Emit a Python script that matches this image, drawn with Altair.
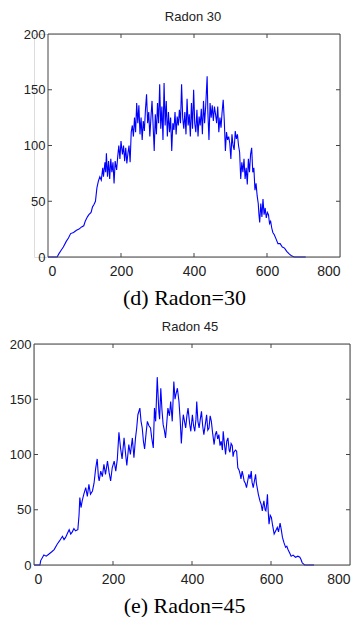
import altair as alt
import pandas as pd

# ---- Panel (d) Radon 30 ----
p1_x = [0, 25, 30, 36, 42, 50, 56, 62, 70, 78, 85, 92, 98, 102, 108, 112, 118, 122, 126, 130,
        134, 138, 142, 146, 150, 152, 156, 158, 160, 163, 166, 169, 172, 175, 178, 181, 184, 188, 191, 194,
        197, 200, 204, 207, 210, 213, 216, 219, 222, 225, 228, 231, 234, 237, 240, 243, 246, 249, 252, 255,
        258, 261, 264, 267, 270, 273, 276, 279, 282, 285, 288, 291, 294, 297, 300, 303, 306, 309, 312, 315,
        318, 321, 324, 327, 330, 333, 336, 339, 342, 345, 348, 351, 354, 357, 360, 363, 366, 369, 372, 375,
        378, 381, 384, 387, 390, 393, 396, 399, 402, 405, 408, 411, 414, 417, 420, 423, 426, 429, 432, 436,
        438, 441, 444, 447, 450, 453, 456, 459, 462, 465, 468, 471, 474, 477, 480, 483, 486, 489, 492, 495,
        498, 501, 504, 507, 510, 513, 516, 519, 522, 525, 528, 531, 534, 537, 540, 543, 546, 549, 552, 555,
        558, 561, 564, 567, 570, 573, 576, 578, 580, 583, 586, 589, 592, 595, 598, 601, 604, 607, 610, 613,
        616, 620, 625, 630, 636, 642, 648, 654, 660, 667, 675, 706]
p1_y = [0, 0, 3, 6, 9, 14, 17, 21, 22, 24, 25, 27, 28, 32, 36, 38, 40, 45, 47, 50,
        62, 68, 72, 69, 80, 72, 85, 76, 93, 72, 86, 70, 88, 76, 85, 66, 86, 78, 90, 100,
        88, 104, 92, 100, 86, 98, 84, 93, 100, 85, 112, 118, 108, 125, 112, 138, 120, 136, 110, 125,
        105, 122, 113, 132, 146, 120, 130, 108, 125, 140, 118, 95, 128, 110, 138, 120, 155, 115, 135, 105,
        156, 118, 140, 108, 130, 112, 125, 95, 120, 114, 130, 110, 126, 118, 132, 120, 155, 125, 115, 130,
        110, 142, 118, 128, 108, 138, 115, 150, 120, 112, 132, 108, 126, 118, 133, 110, 140, 120, 135, 162,
        130, 105, 138, 125, 136, 122, 135, 128, 120, 135, 112, 125, 116, 130, 141, 122, 95, 112, 105, 108,
        102, 88, 110, 100, 96, 113, 106, 110, 100, 94, 70, 85, 76, 88, 70, 80, 65, 88, 76, 92,
        98, 76, 80, 60, 66, 55, 48, 38, 31, 48, 36, 52, 38, 44, 35, 40, 38, 30, 32, 26,
        22, 20, 16, 12, 12, 9, 8, 5, 3, 1, 0, 0]

# ---- Panel (e) Radon 45 ----
p2_x = [0, 15, 17, 25, 31, 38, 45, 51, 59, 65, 72, 76, 80, 85, 89, 93, 97, 101, 105, 111,
        114, 116, 119, 122, 126, 131, 135, 139, 143, 148, 152, 156, 160, 163, 165, 169, 173, 177, 181, 186,
        190, 194, 198, 203, 207, 211, 215, 219, 223, 228, 232, 235, 240, 244, 249, 253, 257, 260, 263, 268,
        271, 274, 277, 280, 284, 287, 291, 295, 298, 302, 305, 308, 312, 316, 318, 321, 324, 327, 330, 333,
        336, 339, 343, 346, 350, 354, 357, 359, 363, 367, 370, 373, 376, 378, 381, 384, 387, 390, 394, 397,
        401, 404, 407, 410, 412, 415, 418, 421, 424, 427, 430, 434, 437, 440, 443, 446, 449, 452, 456, 459,
        462, 465, 468, 471, 474, 477, 479, 482, 485, 488, 491, 494, 496, 499, 502, 504, 506, 510, 513, 516,
        519, 522, 524, 527, 530, 532, 535, 538, 541, 544, 547, 550, 552, 555, 558, 561, 563, 565, 568, 572,
        575, 578, 580, 582, 585, 587, 589, 591, 593, 595, 598, 601, 604, 608, 612, 616, 619, 623, 626, 629,
        633, 637, 640, 643, 647, 651, 656, 662, 668, 673, 676, 679, 685, 709]
p2_y = [0, 0, 4, 9, 8, 10, 12, 14, 19, 22, 26, 23, 25, 29, 32, 28, 30, 33, 31, 32,
        45, 61, 52, 58, 64, 70, 62, 73, 64, 67, 74, 87, 96, 80, 76, 85, 80, 91, 82, 94,
        84, 76, 88, 94, 85, 96, 120, 106, 96, 115, 100, 90, 109, 100, 115, 97, 115, 124, 136, 142,
        130, 124, 112, 105, 120, 130, 126, 124, 115, 106, 142, 130, 170, 139, 132, 160, 140, 127, 122, 115,
        128, 142, 135, 148, 130, 166, 150, 154, 160, 148, 132, 110, 128, 136, 130, 124, 135, 142, 128, 121,
        136, 126, 121, 132, 148, 130, 124, 132, 139, 126, 118, 128, 136, 122, 124, 135, 130, 120, 109, 118,
        121, 114, 118, 108, 112, 104, 121, 110, 100, 112, 115, 104, 102, 110, 108, 98, 102, 104, 103, 88,
        86, 82, 78, 85, 80, 76, 74, 70, 76, 82, 78, 85, 75, 70, 76, 82, 74, 70, 64, 58,
        55, 49, 54, 58, 50, 49, 55, 64, 48, 37, 45, 43, 36, 28, 31, 34, 30, 38, 32, 25,
        20, 16, 17, 14, 11, 8, 9, 7, 8, 7, 5, 2, 0, 0]

x_ticks = [0, 200, 400, 600, 800]
y_ticks = [0, 50, 100, 150, 200]
inner_x = [200, 400, 600]
inner_y = [50, 100, 150]

LABEL_FONT = "Liberation Sans Narrow, Arial Narrow, Liberation Sans, Arial"
BOX = "#444444"


def panel(xs, ys, title, caption, x0, w, h, title_dx):
    """x0: left inset (px) of the plot box inside the group; w: group width."""
    df = pd.DataFrame({"x": xs, "y": ys})
    tx = pd.DataFrame({"t": inner_x})
    ty = pd.DataFrame({"t": inner_y})
    one = pd.DataFrame({"a": [0]})
    xs_ = alt.Scale(domain=[0, 800], nice=False, range=[x0, w])
    ys_ = alt.Scale(domain=[0, 200], nice=False)
    line = alt.Chart(df).mark_line(color="#0000ff", strokeWidth=1.1).encode(
        x=alt.X("x:Q", scale=xs_,
                axis=alt.Axis(values=x_ticks, ticks=False, domain=False, grid=False,
                              labelFont=LABEL_FONT, labelFontSize=14, labelColor="#222222",
                              labelPadding=7, title=caption, titleFont="Liberation Serif",
                              titleFontSize=22, titleFontWeight="normal", titleColor="#000000",
                              titlePadding=9, titleX=150, titleAnchor="start", titleAlign="center")),
        y=alt.Y("y:Q", scale=ys_,
                axis=alt.Axis(values=y_ticks, ticks=False, domain=False, grid=False,
                              labelFont=LABEL_FONT, labelFontSize=13, labelColor="#222222",
                              labelPadding=3, title=None, offset=-x0)),
    )
    box = alt.Chart(one).mark_rect(filled=False, stroke=BOX, strokeWidth=1).encode(
        x=alt.value(x0), x2=alt.value(w), y=alt.value(0), y2=alt.value(h)
    )
    bx = alt.Chart(tx).mark_rule(color=BOX, strokeWidth=1)
    bottom = bx.encode(x=alt.X("t:Q", scale=xs_), y=alt.value(h), y2=alt.value(h - 4))
    top = bx.encode(x=alt.X("t:Q", scale=xs_), y=alt.value(0), y2=alt.value(4))
    by = alt.Chart(ty).mark_rule(color=BOX, strokeWidth=1)
    left = by.encode(y=alt.Y("t:Q", scale=ys_), x=alt.value(x0), x2=alt.value(x0 + 4))
    right = by.encode(y=alt.Y("t:Q", scale=ys_), x=alt.value(w - 4), x2=alt.value(w))
    return alt.layer(line, box, bottom, top, left, right).properties(
        width=w, height=h,
        title=alt.TitleParams(title, font=LABEL_FONT, fontSize=13, fontWeight="normal",
                              color="#222222", offset=4, anchor="middle", dx=title_dx),
    )


c1 = panel(p1_x, p1_y, "Radon 30", "(d) Radon=30", 14, 306, 223, 6)
c2 = panel(p2_x, p2_y, "Radon 45", "(e) Radon=45", 0, 316, 221, -2)

chart = alt.vconcat(c1, c2, spacing=11).properties(
    padding={"left": 0, "top": 2, "right": 0, "bottom": 0}
).configure_view(strokeWidth=0).configure(background="white")

chart.save("out.html", embed_options={"renderer": "svg", "actions": False})
